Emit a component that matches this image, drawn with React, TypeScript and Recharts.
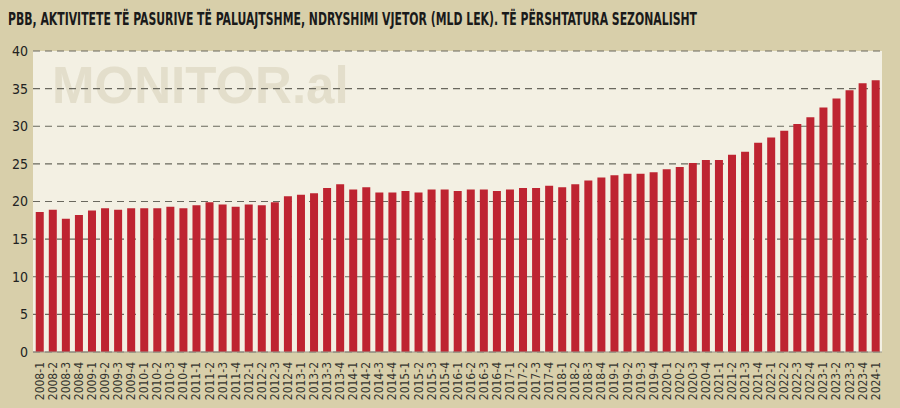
import { BarChart, Bar, XAxis, YAxis, CartesianGrid } from "recharts";

const quarters = [
  "2008-1", "2008-2", "2008-3", "2008-4", "2009-1", "2009-2", "2009-3", "2009-4",
  "2010-1", "2010-2", "2010-3", "2010-4", "2011-1", "2011-2", "2011-3", "2011-4",
  "2012-1", "2012-2", "2012-3", "2012-4", "2013-1", "2013-2", "2013-3", "2013-4",
  "2014-1", "2014-2", "2014-3", "2014-4", "2015-1", "2015-2", "2015-3", "2015-4",
  "2016-1", "2016-2", "2016-3", "2016-4", "2017-1", "2017-2", "2017-3", "2017-4",
  "2018-1", "2018-2", "2018-3", "2018-4", "2019-1", "2019-2", "2019-3", "2019-4",
  "2020-1", "2020-2", "2020-3", "2020-4", "2021-1", "2021-2", "2021-3", "2021-4",
  "2022-1", "2022-2", "2022-3", "2022-4", "2023-1", "2023-2", "2023-3", "2023-4",
  "2024-1",
];

const changeValues = [
  18.6, 18.9, 17.7, 18.2, 18.8, 19.1, 18.9, 19.1,
  19.1, 19.1, 19.3, 19.1, 19.5, 19.9, 19.6, 19.3,
  19.6, 19.5, 19.9, 20.7, 20.9, 21.1, 21.8, 22.3,
  21.6, 21.9, 21.2, 21.2, 21.4, 21.2, 21.6, 21.6,
  21.4, 21.6, 21.6, 21.4, 21.6, 21.8, 21.8, 22.1,
  21.9, 22.3, 22.8, 23.2, 23.5, 23.7, 23.7, 23.9,
  24.3, 24.6, 25.1, 25.5, 25.5, 26.2, 26.6, 27.8,
  28.5, 29.4, 30.3, 31.2, 32.5, 33.7, 34.8, 35.7,
  36.1,
];

const yTicks = [0, 5, 10, 15, 20, 25, 30, 35, 40];

const data = quarters.map((q, i) => ({ q, value: changeValues[i] }));

const narrow = "'Liberation Sans Narrow', 'DejaVu Sans Condensed', sans-serif";

function QuarterTick(props: any) {
  const { x, y, payload } = props;
  return (
    <g transform={`translate(${x},${y})`}>
      <text
        transform="rotate(-90)"
        x={-10}
        y={0}
        dy="0.35em"
        textAnchor="end"
        fontSize={12}
        fontFamily={narrow}
        fill="#363630"
      >
        {payload.value}
      </text>
    </g>
  );
}

export default function App() {
  return (
    <div
      style={{
        position: "absolute",
        left: 0,
        top: 0,
        width: 900,
        height: 408,
        background: "#d8cfaa",
        overflow: "hidden",
      }}
    >
      {/* plot background + watermark sit under the svg */}
      <div
        style={{
          position: "absolute",
          left: 33,
          top: 51,
          width: 849,
          height: 301,
          background: "#f3f0e3",
        }}
      />
      <div
        style={{
          position: "absolute",
          left: 52,
          top: 56,
          fontFamily: "'Liberation Sans', Arial, sans-serif",
          fontWeight: 700,
          fontSize: 51,
          lineHeight: "60px",
          color: "#e3decb",
        }}
      >
        MONITOR.al
      </div>
      <svg
        width={900}
        height={44}
        style={{ position: "absolute", left: 0, top: 0 }}
      >
        <text
          x={8}
          y={21.4}
          transform="scale(1,1.17)"
          textLength={689}
          lengthAdjust="spacingAndGlyphs"
          fontFamily={narrow}
          fontWeight={700}
          fontSize={15}
          fill="#1a1a1a"
        >
          PBB, AKTIVITETE TË PASURIVE TË PALUAJTSHME, NDRYSHIMI VJETOR (MLD LEK). TË PËRSHTATURA SEZONALISHT
        </text>
      </svg>
      <div style={{ position: "absolute", left: 0, top: 0 }}>
        <BarChart
          width={900}
          height={408}
          data={data}
          margin={{ top: 51, right: 18, left: 0, bottom: 0 }}
          barCategoryGap="21%"
        >
          <CartesianGrid
            vertical={false}
            stroke="#6a685e"
            strokeWidth={1.2}
            strokeDasharray="7 5"
          />
          <XAxis
            dataKey="q"
            interval={0}
            height={56}
            tickLine={false}
            tickSize={0}
            tickMargin={0}
            axisLine={{ stroke: "#9a988c" }}
            tick={<QuarterTick />}
          />
          <YAxis
            width={33}
            domain={[0, 40]}
            ticks={yTicks}
            tickLine={false}
            axisLine={false}
            tickSize={0}
            tickMargin={5}
            tick={{ fontSize: 14, fontFamily: narrow, fill: "#222" }}
          />
          <Bar dataKey="value" fill="#be2431" isAnimationActive={false} />
        </BarChart>
      </div>
    </div>
  );
}
